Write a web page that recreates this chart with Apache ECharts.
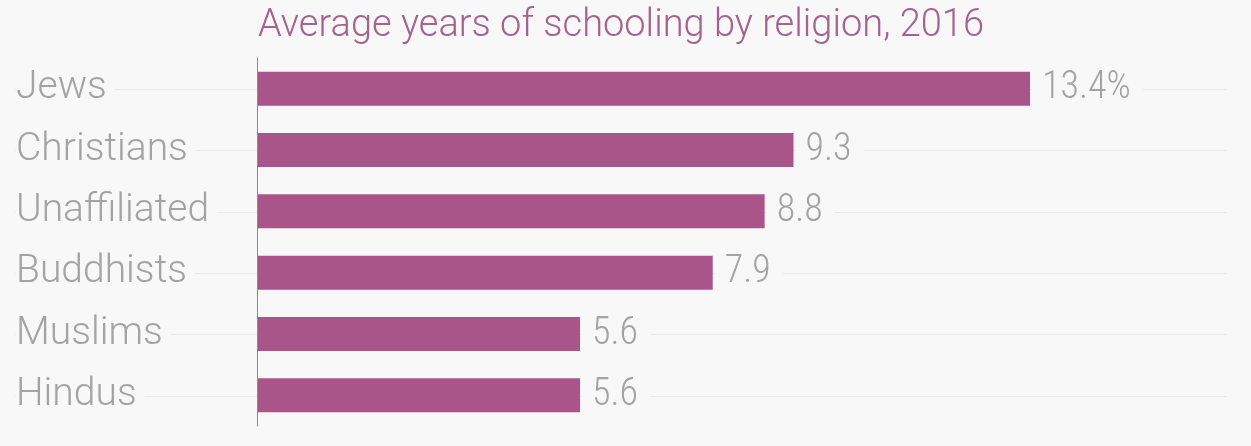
<!DOCTYPE html>
<html>
<head>
<meta charset="utf-8">
<script src="https://cdn.jsdelivr.net/npm/echarts@6/dist/echarts.min.js"></script>
<style>
  html, body { margin: 0; padding: 0; background: #f8f8f8; }
  #chart { width: 1251px; height: 446px; }
</style>
</head>
<body>
<div id="chart"></div>
<script>
const religions = ['Jews', 'Christians', 'Unaffiliated', 'Buddhists', 'Muslims', 'Hindus']
const years = [13.4, 9.3, 8.8, 7.9, 5.6, 5.6]

const bg = '#f8f8f8'
const chart = echarts.init(document.getElementById('chart'))

chart.setOption({
  backgroundColor: bg,
  animation: false,
  title: {
    text: 'Average years of schooling by religion, 2016',
    left: 253,
    top: 2,
    textStyle: { color: '#a4628c', fontFamily: 'Roboto', fontWeight: 300, fontSize: 38 }
  },
  grid: [
    // bar area
    { left: 257, top: 58, width: 923, height: 368 },
    // only used to draw the row guide lines across the full width
    { left: 15, right: 24, top: 89, height: 307 }
  ],
  xAxis: [
    { gridIndex: 0, type: 'value', min: 0, max: 16, show: false },
    { gridIndex: 1, type: 'value', show: false }
  ],
  yAxis: [
    {
      gridIndex: 0,
      type: 'category',
      data: religions,
      inverse: true,
      z: 3,
      axisLine: { show: true, lineStyle: { color: '#8a8a8a', width: 1 } },
      axisTick: { show: false },
      splitLine: { show: false },
      axisLabel: {
        align: 'left',
        margin: 241,
        color: '#a3a3a3',
        fontFamily: 'Roboto',
        fontWeight: 300,
        fontSize: 39,
        backgroundColor: bg,
        padding: [0, 8, 0, 0]
      }
    },
    {
      gridIndex: 1,
      type: 'category',
      data: religions,
      inverse: true,
      boundaryGap: false,
      z: 0,
      axisLine: { show: false },
      axisTick: { show: false },
      axisLabel: { show: false },
      splitLine: { show: true, lineStyle: { color: '#e9e9e9', width: 1 } }
    }
  ],
  series: [
    {
      type: 'bar',
      xAxisIndex: 0,
      yAxisIndex: 0,
      data: years,
      barWidth: 34,
      itemStyle: { color: '#a9558a' },
      label: {
        show: true,
        position: 'right',
        distance: 2,
        color: '#a3a3a3',
        fontFamily: 'Roboto Condensed, Liberation Sans Narrow, Roboto',
        fontWeight: 300,
        fontSize: 38,
        backgroundColor: bg,
        padding: [0, 12, 0, 10],
        formatter: p => p.dataIndex === 0 ? p.value + '%' : String(p.value)
      }
    }
  ]
})
</script>
</body>
</html>
